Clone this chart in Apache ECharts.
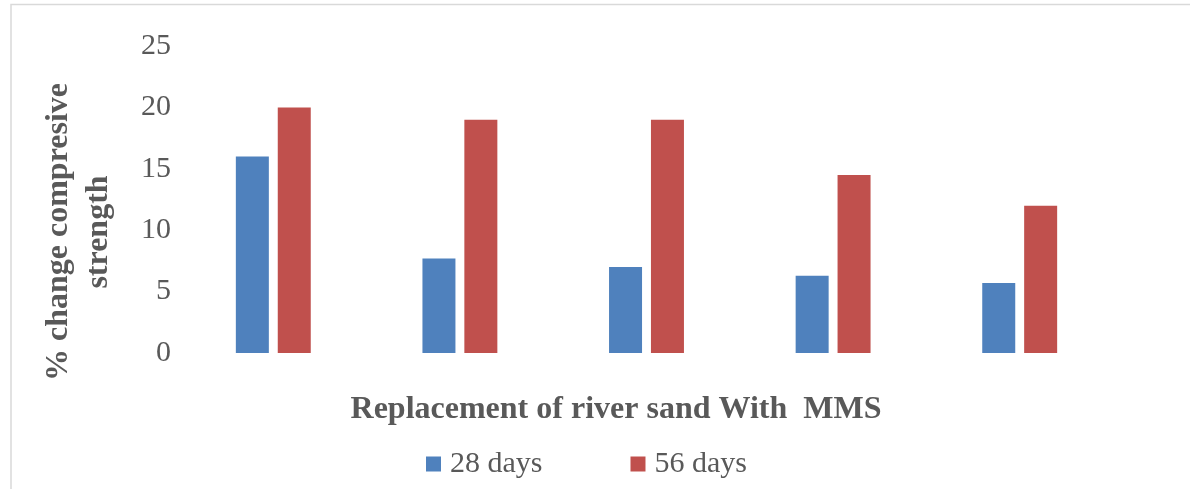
<!DOCTYPE html>
<html>
<head>
<meta charset="utf-8">
<script src="https://cdn.jsdelivr.net/npm/echarts@6/dist/echarts.min.js"></script>
<style>
  html, body { margin: 0; padding: 0; background: #ffffff; }
  #chart { width: 1190px; height: 489px; }
</style>
</head>
<body>
<div id="chart"></div>
<script>
// Replacement levels (no labels are printed along the category axis)
const categories = ['1', '2', '3', '4', '5'];
const days28 = [16.0, 7.7, 7.0, 6.3, 5.7];
const days56 = [20.0, 19.0, 19.0, 14.5, 12.0];
const seriesNames = ['28 days', '56 days'];
const yTitle = '% change compresive\nstrength';
const xTitle = 'Replacement of river sand With  MMS';

const FONT = '"Liberation Serif", "Times New Roman", serif';
const TEXT = '#595959';

const chart = echarts.init(document.getElementById('chart'), null, { renderer: 'canvas' });

chart.setOption({
  animation: false,
  backgroundColor: '#ffffff',
  grid: { left: 180, right: 77, top: 46, bottom: 136, containLabel: false },
  xAxis: {
    type: 'category',
    data: categories,
    axisLine: { show: false },
    axisTick: { show: false },
    axisLabel: { show: false },
    splitLine: { show: false }
  },
  yAxis: {
    type: 'value',
    min: 0,
    max: 25,
    interval: 5,
    axisLine: { show: false },
    axisTick: { show: false },
    splitLine: { show: false },
    axisLabel: { margin: 9, color: TEXT, fontFamily: FONT, fontSize: 30 }
  },
  legend: {
    data: seriesNames,
    left: 421,
    top: 444,
    itemWidth: 15,
    itemHeight: 15,
    itemGap: 88,
    icon: 'rect',
    textStyle: { color: TEXT, fontFamily: FONT, fontSize: 30, padding: [0, 0, 0, 4] }
  },
  series: [
    {
      name: seriesNames[0],
      type: 'bar',
      data: days28,
      barWidth: 33,
      barGap: '27%',
      itemStyle: { color: '#4F81BD' }
    },
    {
      name: seriesNames[1],
      type: 'bar',
      data: days56,
      barWidth: 33,
      barGap: '27%',
      itemStyle: { color: '#C0504D' }
    }
  ],
  graphic: [
    {
      type: 'polyline',
      shape: { points: [[11, 489], [11, 4.5], [1190, 4.5]] },
      style: { stroke: '#d9d9d9', lineWidth: 1.5, fill: null }
    },
    {
      type: 'text',
      x: 79,
      y: 232,
      rotation: Math.PI / 2,
      style: {
        text: yTitle,
        fill: TEXT,
        font: 'bold 32px ' + FONT,
        align: 'center',
        verticalAlign: 'middle',
        lineHeight: 40
      }
    },
    {
      type: 'text',
      x: 616,
      y: 410,
      style: {
        text: xTitle,
        fill: TEXT,
        font: 'bold 32px ' + FONT,
        align: 'center',
        verticalAlign: 'middle'
      }
    }
  ]
});
</script>
</body>
</html>
